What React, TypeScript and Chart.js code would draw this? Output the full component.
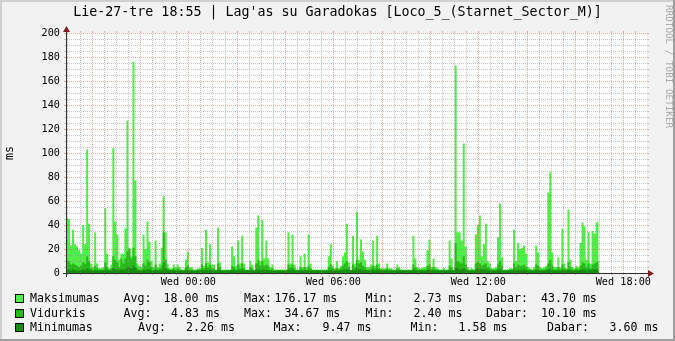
import React, { useEffect, useRef } from "react";
import { Chart, registerables } from "chart.js";

Chart.register(...registerables);

const TITLE = "Lie-27-tre 18:55 | Lag'as su Garadokas [Loco_5_(Starnet_Sector_M)]";
const WATERMARK = "RRDTOOL / TOBI OETIKER";
const Y_UNIT = "ms";

// hours relative to Wed 00:00
const X_RANGE = [-5.02, 18.98];
const X_TICK_HOURS = [0, 6, 12, 18];
const X_TICK_LABELS = ["Wed 00:00", "Wed 06:00", "Wed 12:00", "Wed 18:00"];
const Y_TICKS = [0, 20, 40, 60, 80, 100, 120, 140, 160, 180, 200];
const Y_RANGE = [0, 200];
const FIRST_SAMPLE_HOUR = -5.0617;
const SAMPLE_MINUTES = 5;

const maksimumas = [
  46, 45, 23, 36, 24, 22, 19, 16, 40, 24, 103, 41, 8, 5, 34, 8, 4, 4, 5, 54, 16, 4, 7, 104,
  43, 32, 11, 16, 16, 37, 127, 21, 14, 176, 77, 8, 6, 5, 32, 20, 43, 26, 10, 5, 27, 5, 8, 21,
  64, 34, 8, 4, 4,
  7, 5, 7, 5, 3, 3, 11, 18, 5, 5, 3, 3, 4, 4, 21, 6, 36, 9, 24, 7, 7, 3, 38, 9,
  3, 3, 3, 3, 3, 22, 14, 6, 27, 8, 31, 8, 3, 3, 10, 7, 3, 38, 48, 10, 44, 12, 27, 12,
  5, 7, 3, 3, 3, 3,
  3, 3, 3, 34, 8, 32, 7, 3, 3, 14, 5, 16, 5, 32, 8, 3, 3, 3, 3, 3, 3, 3, 3, 14,
  24, 6, 4, 10, 4, 6, 14, 17, 41, 9, 3, 31, 8, 51, 11, 28, 18, 11, 5, 5, 7, 27, 6, 31,
  8, 4, 4, 4, 8, 4,
  4, 3, 3, 7, 5, 3, 3, 3, 3, 3, 3, 31, 12, 5, 4, 4, 5, 5, 19, 28, 5, 12, 5, 4,
  3, 3, 4, 3, 3, 27, 12, 3, 173, 34, 34, 27, 108, 22, 5, 3, 4, 3, 32, 40, 48, 14, 24, 41,
  10, 8, 4, 4, 5, 30,
  58, 13, 3, 3, 3, 4, 4, 36, 10, 25, 20, 21, 23, 16, 5, 4, 3, 5, 23, 17, 5, 4, 5, 6,
  67, 84, 17, 5, 5, 13, 5, 37, 8, 4, 53, 11, 5, 4, 6, 5, 25, 42, 39, 11, 34, 8, 35, 33,
  42, 43.7,
];

const vidurkis = [
  11, 10, 7, 8, 7, 6, 5, 6, 9, 8, 14, 10, 4, 3, 6, 4, 3, 3, 3, 9, 5, 3, 4, 14,
  11, 9, 5, 12, 8, 12, 18, 20, 12, 21, 14, 4, 3, 3, 8, 6, 11, 9, 5, 3, 7, 3, 4, 6,
  34, 11, 4, 3, 3,
  4, 3, 4, 3, 2.6, 2.6, 5, 6, 3, 3, 2.6, 2.6, 3, 3, 7, 4, 8, 5, 7, 4, 4, 2.6, 8, 5,
  2.6, 2.6, 2.6, 2.6, 2.6, 6, 5, 3, 7, 4, 8, 4, 2.6, 2.6, 5, 4, 2.6, 8, 11, 6, 10, 6, 7, 6,
  3, 4, 2.6, 2.6, 2.6, 2.6,
  2.6, 2.6, 2.6, 7, 5, 7, 4, 2.6, 2.6, 5, 3, 5, 3, 6, 4, 2.6, 2.6, 2.6, 2.6, 2.6, 2.6, 2.6, 2.6, 5,
  7, 4, 3, 4, 3, 4, 6, 8, 10, 5, 2.6, 7, 5, 11, 8, 9, 6, 5, 3, 3, 4, 6, 4, 7,
  4, 3, 3, 3, 4, 3,
  3, 2.6, 2.6, 4, 3, 2.6, 2.6, 2.6, 2.6, 2.6, 2.6, 7, 5, 3, 3, 3, 3, 3, 6, 7, 3, 5, 3, 3,
  2.6, 2.6, 3, 2.6, 2.6, 6, 5, 2.6, 25, 10, 9, 8, 14, 7, 3, 2.6, 3, 2.6, 8, 9, 8, 6, 7, 8,
  5, 4, 3, 3, 3, 7,
  10, 6, 2.6, 2.6, 2.6, 3, 3, 8, 5, 7, 6, 6, 7, 5, 3, 3, 2.6, 3, 7, 6, 3, 3, 3, 4,
  8, 11, 6, 3, 3, 5, 3, 7, 4, 3, 9, 5, 3, 3, 4, 3, 6, 9, 8, 5, 8, 4, 7, 8,
  9, 10.1,
];

const minimumas = [
  3, 3, 2, 3, 2.2, 2, 2, 2.2, 3, 2.2, 4, 3, 2, 1.9, 2.2, 2, 1.9, 2, 2, 3, 2.2, 2, 2, 4,
  3, 3, 2.2, 3, 3, 3, 5, 5, 4, 6, 5, 2.2, 2, 1.9, 3, 2.2, 3, 3, 2.2, 2, 2.4, 2, 2, 2.2,
  9, 4, 2.2, 2, 1.9,
  2.2, 2, 2, 2, 1.8, 1.9, 2.2, 2.4, 2, 2, 1.9, 1.8, 2, 2, 2.4, 2, 3, 2.2, 2.4, 2, 2, 1.9, 3, 2.2,
  1.9, 1.8, 1.9, 2, 1.8, 2.4, 2.2, 2, 2.4, 2, 3, 2, 1.9, 2, 2.2, 2, 1.8, 3, 3, 2.2, 3, 2.2, 2.4, 2.2,
  2, 2, 1.9, 1.8, 2, 1.9,
  2, 1.6, 2, 3, 2.2, 3, 2, 1.9, 2, 2.2, 2, 2.4, 2, 2.5, 2, 1.8, 1.9, 2, 2, 1.8, 2, 1.9, 2, 2.2,
  2.5, 2, 2, 2.2, 2, 2, 2.4, 3, 3, 2.2, 2, 2.5, 2.2, 4, 3, 3, 2.4, 2.2, 2, 2, 2, 2.4, 2, 3,
  2.2, 2, 2, 2, 2.2, 2,
  2, 2, 1.8, 2.2, 2, 1.9, 2, 1.8, 2, 2, 1.9, 3, 2.2, 2, 2, 2, 2, 2, 2.4, 3, 2, 2.2, 2, 2,
  1.9, 2, 2, 1.8, 2, 2.4, 2.2, 2, 5, 4, 3, 3, 4, 3, 2, 1.9, 2, 2, 3, 4, 3, 3, 3, 3,
  2.2, 2, 2, 2, 2, 3,
  3, 2.2, 2, 1.9, 2, 2, 2, 3, 2.2, 2.4, 2.2, 2.2, 3, 2.2, 2, 2, 1.8, 2, 2.4, 2.2, 2, 2, 2, 2.2,
  3, 3, 2.4, 2, 2, 2.2, 2, 3, 2.2, 2, 3, 2.2, 2, 2, 2, 2, 2.4, 3, 3, 2.2, 3, 2.2, 3, 3,
  3.2, 3.6,
];

const SERIES_NAMES = ["Maksimumas", "Vidurkis", "Minimumas"];
const SERIES_COLORS = ["#54EC48", "#24BC14", "#198C10"];
const STAT_AVG = ["18.00 ms", "4.83 ms", "2.26 ms"];
const STAT_MAX = ["176.17 ms", "34.67 ms", "9.47 ms"];
const STAT_MIN = ["2.73 ms", "2.40 ms", "1.58 ms"];
const STAT_NOW = ["43.70 ms", "10.10 ms", "3.60 ms"];

const FONT = '"DejaVu Sans Mono", monospace';
const GRID_COLOR = "rgba(143,143,143,0.5)";
const MGRID_COLOR = "rgba(222,79,79,0.5)";
const AXIS_COLOR = "#303030";
const ARROW_COLOR = "#801F1F";

const LEGEND_COLS = [
  [30, 123.5, 163.5, 244, 274.5, 365.5, 413.5, 486, 541],
  [30, 123.5, 171, 244, 284.5, 365.5, 413.5, 486, 541],
  [30, 138, 186, 273.5, 322.5, 410.5, 458.5, 547, 609.5],
];
const LEGEND_Y = [298, 313, 327];

function toPoints(values: number[]) {
  const stepH = SAMPLE_MINUTES / 60;
  return values.map((v, i) => ({ x: FIRST_SAMPLE_HOUR + (i + 0.5) * stepH, y: v }));
}

const rrdPlugin = {
  id: "rrdGrid",
  beforeDatasetsDraw(chart: any) {
    const { ctx, chartArea: a } = chart;
    ctx.save();
    ctx.fillStyle = "#FFFFFF";
    ctx.fillRect(a.left, a.top, a.right - a.left, a.bottom - a.top);
    ctx.restore();
  },
  afterDatasetsDraw(chart: any) {
    const { ctx, chartArea: a, scales } = chart;
    const xs = scales.x;
    const ys = scales.y;
    const L = a.left;
    const R = a.right;
    const T = a.top;
    const B = a.bottom;
    ctx.save();
    ctx.lineWidth = 1;
    const hLine = (v: number, color: string) => {
      const py = Math.round(ys.getPixelForValue(v)) + 0.5;
      ctx.strokeStyle = color;
      ctx.setLineDash([]);
      ctx.beginPath();
      ctx.moveTo(L - 3, py);
      ctx.lineTo(L, py);
      ctx.moveTo(R, py);
      ctx.lineTo(R + 2, py);
      ctx.stroke();
      ctx.setLineDash([1, 1]);
      ctx.beginPath();
      ctx.moveTo(L, py);
      ctx.lineTo(R, py);
      ctx.stroke();
    };
    const vLine = (h: number, color: string) => {
      const px = Math.round(xs.getPixelForValue(h)) + 0.5;
      ctx.strokeStyle = color;
      ctx.setLineDash([]);
      ctx.beginPath();
      ctx.moveTo(px, B);
      ctx.lineTo(px, B + 2);
      ctx.moveTo(px, T - 2);
      ctx.lineTo(px, T);
      ctx.stroke();
      ctx.setLineDash([1, 1]);
      ctx.beginPath();
      ctx.moveTo(px, B);
      ctx.lineTo(px, T);
      ctx.stroke();
    };
    for (let v = 5; v <= Y_RANGE[1]; v += 5) {
      if (v % 20 !== 0) hLine(v, GRID_COLOR);
    }
    for (let h = Math.ceil(X_RANGE[0] * 2) / 2; h <= X_RANGE[1]; h += 0.5) {
      if (h % 2 !== 0) vLine(h, GRID_COLOR);
    }
    for (let v = 20; v <= Y_RANGE[1]; v += 20) hLine(v, MGRID_COLOR);
    for (let h = Math.ceil(X_RANGE[0] / 2) * 2; h <= X_RANGE[1]; h += 2) vLine(h, MGRID_COLOR);

    // axes
    ctx.setLineDash([]);
    ctx.strokeStyle = AXIS_COLOR;
    const ay = Math.round(B) + 0.5;
    const ax = Math.round(L) - 0.5;
    ctx.beginPath();
    ctx.moveTo(L - 4, ay);
    ctx.lineTo(R + 4, ay);
    ctx.moveTo(ax, B + 4);
    ctx.lineTo(ax, T - 4);
    ctx.stroke();
    ctx.fillStyle = ARROW_COLOR;
    ctx.beginPath();
    ctx.moveTo(R + 1, ay - 3.5);
    ctx.lineTo(R + 1, ay + 3.5);
    ctx.lineTo(R + 7, ay);
    ctx.closePath();
    ctx.fill();
    ctx.beginPath();
    ctx.moveTo(ax - 3.5, T - 1);
    ctx.lineTo(ax + 3.5, T - 1);
    ctx.lineTo(ax, T - 7);
    ctx.closePath();
    ctx.fill();
    ctx.restore();
  },
};

export default function App() {
  const canvasRef = useRef<HTMLCanvasElement | null>(null);

  useEffect(() => {
    if (!canvasRef.current) return;
    const chart = new Chart(canvasRef.current, {
      type: "line",
      data: {
        datasets: [
          { label: SERIES_NAMES[2], data: toPoints(minimumas), backgroundColor: SERIES_COLORS[2] },
          { label: SERIES_NAMES[1], data: toPoints(vidurkis), backgroundColor: SERIES_COLORS[1] },
          { label: SERIES_NAMES[0], data: toPoints(maksimumas), backgroundColor: SERIES_COLORS[0] },
        ].map((d) => ({
          ...d,
          fill: "origin",
          stepped: "middle",
          borderWidth: 0,
          borderColor: "rgba(0,0,0,0)",
          pointRadius: 0,
          tension: 0,
        })) as any,
      },
      options: {
        animation: false,
        responsive: false,
        maintainAspectRatio: false,
        events: [],
        layout: { padding: { left: 0, right: 28, top: 33, bottom: 48 } },
        plugins: { legend: { display: false }, tooltip: { enabled: false }, title: { display: false } },
        scales: {
          x: {
            type: "linear",
            min: X_RANGE[0],
            max: X_RANGE[1],
            afterBuildTicks: (s: any) => {
              s.ticks = X_TICK_HOURS.map((v) => ({ value: v }));
            },
            afterFit: (s: any) => {
              s.height = 20;
            },
            ticks: {
              autoSkip: false,
              maxRotation: 0,
              padding: 3,
              color: "#000",
              font: { family: FONT, size: 10.2 },
              callback: (v: any) => X_TICK_LABELS[X_TICK_HOURS.indexOf(Number(v))],
            },
            grid: { display: false, drawTicks: false },
            border: { display: false },
          },
          y: {
            type: "linear",
            min: Y_RANGE[0],
            max: Y_RANGE[1],
            afterBuildTicks: (s: any) => {
              s.ticks = Y_TICKS.map((v) => ({ value: v }));
            },
            afterFit: (s: any) => {
              s.width = 67;
            },
            ticks: {
              padding: 7,
              color: "#000",
              font: { family: FONT, size: 10.2 },
              callback: (v: any) => String(v),
            },
            grid: { display: false, drawTicks: false },
            border: { display: false },
            title: {
              display: true,
              text: Y_UNIT,
              color: "#000",
              font: { family: FONT, size: 11.6 },
              padding: { top: 3, bottom: 0 },
            },
          },
        },
      } as any,
      plugins: [rrdPlugin],
    });
    return () => chart.destroy();
  }, []);

  const legendRows = SERIES_NAMES.map((name, r) => {
    const parts = [name, "Avg:", STAT_AVG[r], "Max:", STAT_MAX[r], "Min:", STAT_MIN[r], "Dabar:", STAT_NOW[r]];
    const cy = LEGEND_Y[r];
    return (
      <React.Fragment key={name}>
        <div
          style={{
            position: "absolute",
            left: 15,
            top: cy - 4.5,
            width: 7,
            height: 7,
            background: SERIES_COLORS[r],
            border: "1px solid #000",
          }}
        />
        {parts.map((p, k) => (
          <span
            key={k}
            style={{
              position: "absolute",
              left: LEGEND_COLS[r][k],
              top: cy - 7,
              height: 14,
              lineHeight: "14px",
              fontSize: 11.6,
              whiteSpace: "pre",
              color: "#000",
            }}
          >
            {p}
          </span>
        ))}
      </React.Fragment>
    );
  });

  return (
    <div
      style={{
        position: "fixed",
        left: 0,
        top: 0,
        width: 675,
        height: 341,
        background: "#F2F2F2",
        overflow: "hidden",
        fontFamily: FONT,
      }}
    >
      <canvas ref={canvasRef} width={675} height={341} style={{ position: "absolute", left: 0, top: 0, width: 675, height: 341 }} />
      <div
        style={{
          position: "absolute",
          left: 0,
          top: 4,
          width: 675,
          textAlign: "center",
          fontSize: 13.3,
          lineHeight: "16px",
          color: "#000",
          whiteSpace: "pre",
        }}
      >
        {TITLE}
      </div>
      <div
        style={{
          position: "absolute",
          left: 674,
          top: 5,
          transform: "rotate(90deg)",
          transformOrigin: "0 0",
          fontSize: 9.3,
          lineHeight: "10px",
          color: "rgba(0,0,0,0.33)",
          whiteSpace: "pre",
        }}
      >
        {WATERMARK}
      </div>
      {legendRows}
      <div style={{ position: "absolute", left: 0, top: 0, width: 675, height: 2, background: "#CFCFCF" }} />
      <div style={{ position: "absolute", left: 0, top: 0, width: 2, height: 341, background: "#CFCFCF" }} />
      <div style={{ position: "absolute", left: 0, top: 339, width: 675, height: 2, background: "#9E9E9E" }} />
      <div style={{ position: "absolute", left: 673, top: 0, width: 2, height: 341, background: "#9E9E9E" }} />
    </div>
  );
}
